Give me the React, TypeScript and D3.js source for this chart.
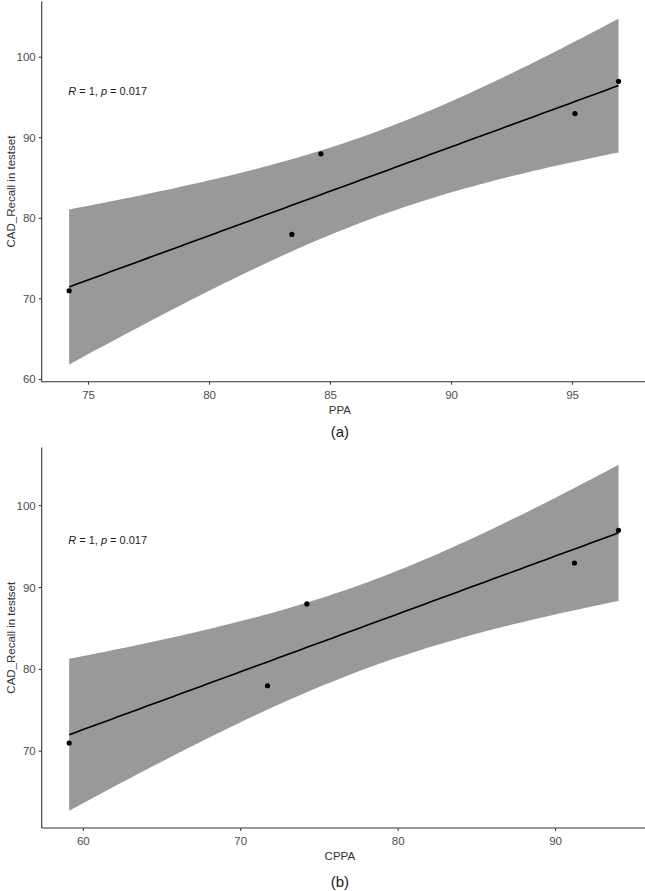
import React from "react";
import * as d3 from "d3";

// ---- data ----
const recall = [71, 78, 88, 93, 97];
const ppa = [74.2, 83.4, 84.6, 95.1, 96.9];
const cppa = [59.1, 71.7, 74.2, 91.2, 94.0];
const yTicks = [60, 70, 80, 90, 100];
const xTicksA = [75, 80, 85, 90, 95];
const xTicksB = [60, 70, 80, 90];
const annotation = { r: "1", p: "0.017" };
const T_975_DF3 = 3.182;

const W = 645;
const H = 891;
const FONT = "'Liberation Sans', Arial, sans-serif";

type Box = { x0: number; x1: number; y0: number; y1: number };

function fitLm(xs: number[], ys: number[]) {
  const n = xs.length;
  const mx = d3.mean(xs)!;
  const my = d3.mean(ys)!;
  let sxx = 0, sxy = 0;
  xs.forEach((x, i) => { sxx += (x - mx) ** 2; sxy += (x - mx) * (ys[i] - my); });
  const b = sxy / sxx;
  const a = my - b * mx;
  let sse = 0;
  xs.forEach((x, i) => { sse += (ys[i] - (a + b * x)) ** 2; });
  const s = Math.sqrt(sse / (n - 2));
  const [lo, hi] = d3.extent(xs) as [number, number];
  const pts = d3.range(80).map((i) => {
    const x = lo + ((hi - lo) * i) / 79;
    const fit = a + b * x;
    const se = s * Math.sqrt(1 / n + (x - mx) ** 2 / sxx);
    return { x, fit, lo: fit - T_975_DF3 * se, hi: fit + T_975_DF3 * se };
  });
  return pts;
}

function expand([a, b]: [number, number]): [number, number] {
  const d = (b - a) * 0.05;
  return [a - d, b + d];
}

function Panel({ xs, ys, xTicks, xLabel, tag, box, tagY }: {
  xs: number[]; ys: number[]; xTicks: number[]; xLabel: string; tag: string; box: Box; tagY: number;
}) {
  const band = fitLm(xs, ys);
  const xDom = expand(d3.extent(xs) as [number, number]);
  const yMin = Math.min(d3.min(band, (d) => d.lo)!, d3.min(ys)!);
  const yMax = Math.max(d3.max(band, (d) => d.hi)!, d3.max(ys)!);
  const yDom = expand([yMin, yMax]);
  const x = d3.scaleLinear().domain(xDom).range([box.x0, box.x1]);
  const y = d3.scaleLinear().domain(yDom).range([box.y1, box.y0]);
  const area = d3.area<any>().x((d) => x(d.x)).y0((d) => y(d.lo)).y1((d) => y(d.hi));
  const line = d3.line<any>().x((d) => x(d.x)).y((d) => y(d.fit));
  const yt = yTicks.filter((t) => t >= yDom[0] && t <= yDom[1]);
  const cx = (box.x0 + box.x1) / 2;
  const axisCol = "#333333";
  const tickCol = "#4d4d4d";
  return (
    <g>
      <path d={area(band)!} fill="#999999" />
      <path d={line(band)!} fill="none" stroke="#000" strokeWidth={1.6} />
      {xs.map((v, i) => (
        <circle key={i} cx={x(v)} cy={y(ys[i])} r={2.6} fill="#000" />
      ))}
      <text x={box.x0 + 26.5} y={y(95.8)} dy="0.35em" fontFamily={FONT} fontSize={11} fill="#1a1a1a">
        <tspan fontStyle="italic">R</tspan>
        <tspan>{` = ${annotation.r}, `}</tspan>
        <tspan fontStyle="italic">p</tspan>
        <tspan>{` = ${annotation.p}`}</tspan>
      </text>
      <line x1={box.x0} x2={box.x0} y1={box.y0} y2={box.y1} stroke={axisCol} strokeWidth={1.1} />
      <line x1={box.x0} x2={box.x1} y1={box.y1} y2={box.y1} stroke={axisCol} strokeWidth={1.1} />
      {yt.map((t) => (
        <g key={t}>
          <line x1={box.x0 - 3} x2={box.x0} y1={y(t)} y2={y(t)} stroke={axisCol} strokeWidth={1} />
          <text x={box.x0 - 6} y={y(t)} dy="0.35em" textAnchor="end" fontFamily={FONT} fontSize={11.5} fill={tickCol}>{t}</text>
        </g>
      ))}
      {xTicks.map((t) => (
        <g key={t}>
          <line x1={x(t)} x2={x(t)} y1={box.y1} y2={box.y1 + 3} stroke={axisCol} strokeWidth={1} />
          <text x={x(t)} y={box.y1 + 13} dy="0.35em" textAnchor="middle" fontFamily={FONT} fontSize={11.5} fill={tickCol}>{t}</text>
        </g>
      ))}
      <text x={cx - 4} y={box.y1 + 28} dy="0.35em" textAnchor="middle" fontFamily={FONT} fontSize={11.5} fill="#333">{xLabel}</text>
      <text transform={`translate(11,${(box.y0 + box.y1) / 2}) rotate(-90)`} dy="0.35em" textAnchor="middle" fontFamily={FONT} fontSize={11.5} fill="#333">CAD_Recall in testset</text>
      <text x={cx - 4} y={tagY} dy="0.35em" textAnchor="middle" fontFamily={FONT} fontSize={15} fill="#222">{tag}</text>
    </g>
  );
}

export default function App() {
  return (
    <svg width={W} height={H} style={{ position: "absolute", left: 0, top: 0, background: "#fff" }}>
      <rect width={W} height={H} fill="#fff" />
      <Panel xs={ppa} ys={recall} xTicks={xTicksA} xLabel="PPA" tag="(a)" box={{ x0: 41.7, x1: 646, y0: 1.4, y1: 381.7 }} tagY={432} />
      <Panel xs={cppa} ys={recall} xTicks={xTicksB} xLabel="CPPA" tag="(b)" box={{ x0: 41.7, x1: 646, y0: 447.5, y1: 828 }} tagY={882} />
    </svg>
  );
}
